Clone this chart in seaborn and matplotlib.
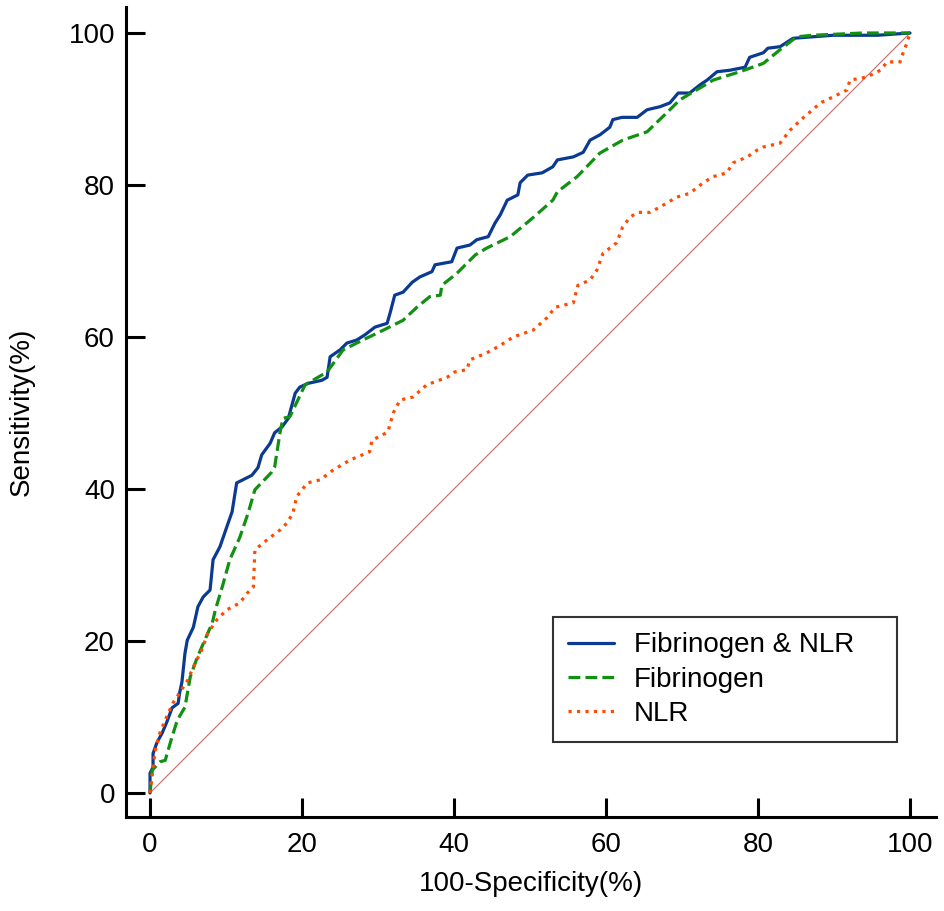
import matplotlib
matplotlib.use("Agg")
import matplotlib.pyplot as plt
import numpy as np
import pandas as pd
import seaborn as sns

# ROC curves (100-specificity %, sensitivity %)
combo_fpr = [0, 0, 0.4, 0.4, 0.9, 1.6, 2.2, 2.9, 3.7, 3.9, 4.2, 4.6, 4.9, 5.7, 6.3, 7.0, 7.9, 8.3,
             9.2, 10.1, 10.8, 11.4, 12.2, 13.4, 14.2, 14.7, 15.8, 16.4, 17.4, 18.2, 19.1, 19.7, 20.8,
             22.6, 23.3, 23.7, 25.0, 25.9, 27.2, 28.3, 29.6, 31.2, 31.6, 32.2, 33.3, 34.5, 35.5, 37.1,
             37.5, 39.7, 40.4, 42.1, 43.0, 44.5, 45.4, 46.1, 47.0, 48.4, 48.7, 49.7, 51.6, 53.0, 53.6,
             55.7, 57.0, 57.9, 59.2, 60.5, 60.9, 62.1, 64.1, 65.4, 67.1, 68.4, 69.5, 71.0, 72.4, 73.3,
             74.6, 76.3, 78.3, 78.9, 80.7, 81.3, 82.9, 84.6, 87.2, 89.9, 95.7, 100]
combo_tpr = [0, 2.6, 3.4, 5.2, 6.6, 7.9, 9.3, 11.2, 11.8, 13.2, 14.6, 18.4, 20.1, 21.8, 24.5, 25.8,
             26.7, 30.7, 32.4, 35.0, 37.0, 40.8, 41.2, 41.8, 42.8, 44.5, 46.0, 47.4, 48.2, 49.3, 52.6,
             53.4, 53.9, 54.3, 54.7, 57.4, 58.3, 59.2, 59.6, 60.3, 61.3, 61.8, 63.2, 65.5, 65.9, 67.2,
             67.9, 68.6, 69.5, 69.9, 71.7, 72.1, 72.8, 73.2, 75.0, 76.1, 78.0, 78.7, 80.3, 81.3, 81.6,
             82.4, 83.3, 83.7, 84.3, 85.9, 86.6, 87.6, 88.6, 88.9, 88.9, 89.9, 90.3, 90.8, 92.1, 92.1,
             93.2, 93.8, 94.9, 95.1, 95.5, 96.8, 97.4, 98.0, 98.2, 99.3, 99.5, 99.7, 99.7, 100]

fib_fpr = [0, 0.3, 1.3, 2.0, 2.9, 3.6, 4.6, 5.3, 6.2, 7.2, 8.2, 8.6, 9.5, 10.5, 11.8, 12.9, 13.8,
           16.0, 16.4, 17.1, 17.5, 18.4, 20.4, 23.3, 25.4, 28.0, 30.7, 33.3, 35.1, 36.8, 38.2, 38.4,
           40.4, 42.8, 44.3, 47.4, 50.4, 53.0, 53.6, 56.2, 59.2, 62.2, 65.4, 68.0, 69.7, 71.4, 74.1,
           77.6, 80.7, 82.9, 85.1, 87.2, 93.8, 100]
fib_tpr = [0, 3.0, 4.1, 4.3, 7.4, 9.6, 11.3, 15.3, 17.8, 20.1, 22.4, 24.1, 27.1, 30.7, 33.6, 36.8,
           39.9, 42.2, 42.9, 47.4, 49.3, 49.5, 53.7, 55.4, 58.3, 59.6, 60.9, 62.2, 63.9, 65.3, 65.5,
           66.8, 68.4, 70.8, 71.7, 73.2, 75.7, 78.0, 79.1, 81.1, 84.2, 85.9, 87.0, 89.5, 91.2, 92.2,
           93.8, 94.9, 96.0, 97.8, 99.5, 99.7, 100, 100]

nlr_fpr = [0, 0.3, 0.7, 1.3, 2.0, 3.0, 3.9, 5.0, 5.7, 6.8, 7.6, 8.8, 10.1, 11.8, 12.8, 13.6, 13.8,
           15.4, 17.1, 18.0, 18.8, 19.3, 20.7, 22.4, 24.1, 26.3, 28.9, 29.2, 31.3, 32.0, 32.9, 34.6,
           36.4, 39.1, 40.1, 41.7, 42.1, 44.3, 46.1, 47.8, 50.4, 52.2, 53.3, 55.7, 56.3, 57.9, 58.8,
           59.6, 61.4, 62.2, 63.2, 64.2, 65.8, 67.1, 69.3, 71.0, 72.8, 74.1, 75.9, 76.7, 78.6, 79.9,
           80.7, 82.9, 84.2, 85.9, 87.2, 88.2, 89.9, 91.7, 92.1, 94.3, 96.1, 97.0, 98.7, 99.1, 99.6, 100]
nlr_tpr = [0, 2.6, 5.7, 7.9, 9.6, 11.8, 13.2, 14.9, 16.6, 18.8, 21.0, 22.8, 24.1, 25.0, 26.3, 27.1,
           32.0, 33.3, 34.6, 35.5, 36.8, 39.0, 40.8, 41.2, 42.5, 43.8, 44.9, 46.4, 47.5, 50.0, 51.7,
           52.1, 53.7, 54.7, 55.4, 55.7, 57.0, 57.9, 58.9, 60.0, 60.9, 62.5, 63.9, 64.5, 66.8, 67.5,
           68.8, 71.0, 72.4, 74.5, 75.8, 76.4, 76.4, 77.1, 78.4, 78.9, 80.3, 81.1, 81.6, 82.9, 83.7,
           84.6, 85.0, 85.5, 87.2, 88.8, 89.9, 90.8, 91.6, 92.5, 93.8, 94.2, 95.1, 96.2, 96.2, 97.4,
           98.7, 100]

ref_line = [0, 100]
labels = ["Fibrinogen & NLR", "Fibrinogen", "NLR"]
ticks = [0, 20, 40, 60, 80, 100]

COLORS = ["#0b3a93", "#119011", "#ff4a00"]
STYLES = ["-", "--", ":"]
FONT_SIZE = 20


def main() -> None:
    sns.set_theme(style="white")
    plt.rcParams.update(
        {
            "font.family": ["Liberation Sans", "DejaVu Sans"],
            "font.size": FONT_SIZE,
            "text.color": "black",
            "axes.labelcolor": "black",
            "axes.edgecolor": "black",
            "axes.linewidth": 2.2,
            "xtick.color": "black",
            "ytick.color": "black",
        }
    )

    fig = plt.figure(figsize=(9.45, 9.11), dpi=100)
    ax = fig.add_axes([126 / 945, 94 / 911, 810 / 945, 810 / 911])

    sns.lineplot(x=ref_line, y=ref_line, ax=ax, color="#c46a6a", linewidth=0.8)

    curves = [(combo_fpr, combo_tpr), (fib_fpr, fib_tpr), (nlr_fpr, nlr_tpr)]
    handles = []
    for (fpr, tpr), label, color, ls in zip(curves, labels, COLORS, STYLES):
        df = pd.DataFrame({"fpr": fpr, "tpr": tpr})
        sns.lineplot(data=df, x="fpr", y="tpr", ax=ax, sort=False, estimator=None,
                     color=color, linewidth=2.3, linestyle=ls, label=label)
        handles.append(ax.lines[-1])

    ax.set_xlim(-3.16, 103.42)
    ax.set_ylim(-3.16, 103.42)
    ax.set_xticks(ticks)
    ax.set_yticks(ticks)
    sns.despine(ax=ax)
    ax.tick_params(bottom=True, left=True, direction="in", length=14, width=2.2,
                   labelsize=FONT_SIZE)
    ax.tick_params(axis="x", pad=11)
    ax.tick_params(axis="y", pad=8)
    ax.set_xlabel("100-Specificity(%)", fontsize=FONT_SIZE, labelpad=9)
    ax.set_ylabel("Sensitivity(%)", fontsize=FONT_SIZE, labelpad=24)

    leg = ax.legend(
        handles, labels,
        loc="upper left",
        bbox_to_anchor=(553 / 945, 1 - 742 / 911, 344 / 945, 125 / 911),
        bbox_transform=fig.transFigure,
        mode="expand",
        borderaxespad=0,
        frameon=True,
        fancybox=False,
        edgecolor="black",
        fontsize=FONT_SIZE,
        handlelength=1.65,
        handletextpad=0.7,
        labelspacing=0.3,
        borderpad=0.55,
    )
    leg.get_frame().set_linewidth(1.5)

    fig.savefig("out.png", dpi=100, facecolor="white")
    plt.close(fig)


if __name__ == "__main__":
    main()
